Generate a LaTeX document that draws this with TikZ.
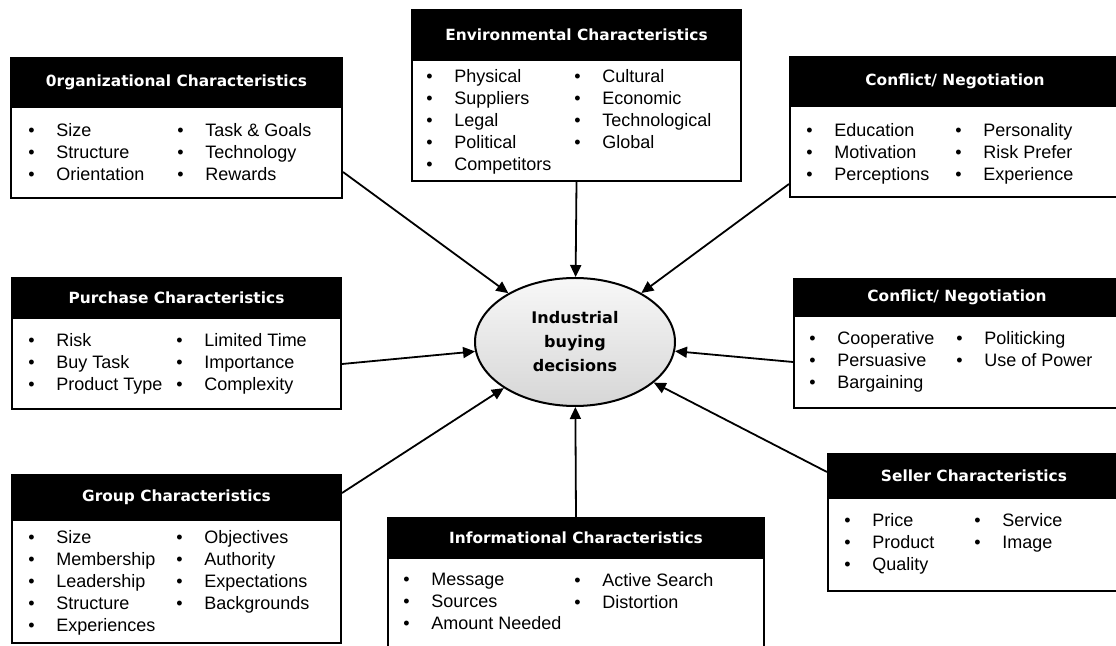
\documentclass[tikz,border=0pt]{standalone}
\usepackage{fontspec}
\setmainfont{Liberation Sans}
\newfontfamily\headfont{DejaVu Sans}
\usetikzlibrary{arrows.meta,shapes.geometric}
\newcommand\itm{\makebox[14pt][l]{\textbullet}}
\begin{document}
\begin{tikzpicture}[x=0.5pt,y=-0.5pt,
		box/.style={draw,line width=1pt,fill=white,anchor=north west,inner sep=0pt},
		head/.style={draw,line width=1pt,fill=black,text=white,anchor=north,inner sep=0pt,font=\headfont\bfseries\fontsize{7.7}{9}\selectfont},
		col/.style={anchor=north west,inner sep=0pt,align=left,font=\fontsize{9}{11}\selectfont},
		dec/.style={ellipse,draw,line width=1pt,top color=gray!6,bottom color=gray!32,minimum width=100pt,minimum height=64pt,inner sep=0pt,align=center,font=\headfont\bfseries\fontsize{8}{12}\selectfont},
		arr/.style={line width=0.9pt,-{Triangle[length=6pt,width=5.5pt]}}]
		\path[use as bounding box,fill=white] (0,0) rectangle (1116,646);
		\clip (0,0) rectangle (1116,646);
		\node[box,minimum width=165.5pt,minimum height=70pt] (org) at (10,57) {};
		\node[head,minimum width=165.5pt,minimum height=24.5pt] (orgh) at (org.north) {0rganizational Characteristics};
		\node[col] (orga) at (28,123) {\itm Size\\\itm Structure\\\itm Orientation};
		\node[col] (orgb) at (177,123) {\itm Task \& Goals\\\itm Technology\\\itm Rewards};
		\node[box,minimum width=164.5pt,minimum height=85.5pt] (env) at (411,9) {};
		\node[head,minimum width=164.5pt,minimum height=25pt] (envh) at (env.north) {Environmental Characteristics};
		\node[col] (enva) at (426,69) {\itm Physical\\\itm Suppliers\\\itm Legal\\\itm Political\\\itm Competitors};
		\node[col] (envb) at (574,69) {\itm Cultural\\\itm Economic\\\itm Technological\\\itm Global};
		\node[box,minimum width=165pt,minimum height=70pt] (cnf) at (789,56) {};
		\node[head,minimum width=165pt,minimum height=24.5pt] (cnfh) at (cnf.north) {Conflict/ Negotiation};
		\node[col] (cnfa) at (806,123) {\itm Education\\\itm Motivation\\\itm Perceptions};
		\node[col] (cnfb) at (955,123) {\itm Personality\\\itm Risk Prefer\\\itm Experience};
		\node[box,minimum width=164.5pt,minimum height=65.5pt] (pur) at (11,277) {};
		\node[head,minimum width=164.5pt,minimum height=20pt] (purh) at (pur.north) {Purchase Characteristics};
		\node[col] (pura) at (28,333) {\itm Risk\\\itm Buy Task\\\itm Product Type};
		\node[col] (purb) at (176,333) {\itm Limited Time\\\itm Importance\\\itm Complexity};
		\node[box,minimum width=163pt,minimum height=64.5pt] (neg) at (793,278) {};
		\node[head,minimum width=163pt,minimum height=18.5pt] (negh) at (neg.north) {Conflict/ Negotiation};
		\node[col] (nega) at (809,331) {\itm Cooperative\\\itm Persuasive\\\itm Bargaining};
		\node[col] (negb) at (956,331) {\itm Politicking\\\itm Use of Power};
		\node[box,minimum width=146pt,minimum height=68.5pt] (sel) at (827,453) {};
		\node[head,minimum width=146pt,minimum height=22pt] (selh) at (sel.north) {Seller Characteristics};
		\node[col] (sela) at (844,513) {\itm Price\\\itm Product\\\itm Quality};
		\node[col] (selb) at (974,513) {\itm Service\\\itm Image};
		\node[box,minimum width=164.5pt,minimum height=84pt] (grp) at (11,474) {};
		\node[head,minimum width=164.5pt,minimum height=22.5pt] (grph) at (grp.north) {Group Characteristics};
		\node[col] (grpa) at (28,530) {\itm Size\\\itm Membership\\\itm Leadership\\\itm Structure\\\itm Experiences};
		\node[col] (grpb) at (176,530) {\itm Objectives\\\itm Authority\\\itm Expectations\\\itm Backgrounds};
		\node[box,minimum width=188pt,minimum height=75pt] (inf) at (387,517) {};
		\node[head,minimum width=188pt,minimum height=20pt] (infh) at (inf.north) {Informational Characteristics};
		\node[col] (infa) at (403,573) {\itm Message\\\itm Sources\\\itm Amount Needed};
		\node[col] (infb) at (574,573) {\itm Active Search\\\itm Distortion};
		\node[dec] (dec) at (575,342) {Industrial\\buying\\decisions};
		\draw[arr] ([yshift=13.5pt]org.south east) -- (dec);
		\draw[arr] (env.south) -- (dec);
		\draw[arr] ([yshift=7pt]cnf.south west) -- (dec);
		\draw[arr] ([yshift=23pt]pur.south east) -- (dec);
		\draw[arr] ([yshift=23.5pt]neg.south west) -- (dec);
		\draw[arr] ([yshift=-9.5pt]sel.north west) -- (dec);
		\draw[arr] ([yshift=-9.5pt]grp.north east) -- (dec);
		\draw[arr] (inf.north) -- (dec);
	\end{tikzpicture}
\end{document}
